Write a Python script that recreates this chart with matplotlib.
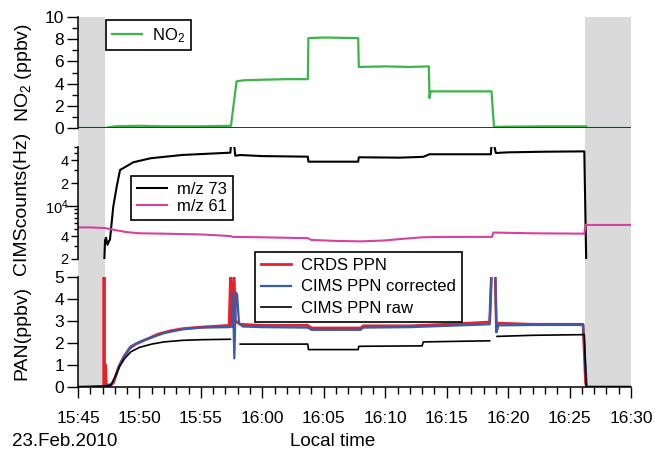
import numpy as np
import pandas as pd
import matplotlib
matplotlib.use("Agg")
import matplotlib.pyplot as plt
import matplotlib.dates as mdates

plt.rcParams['font.family'] = ['Liberation Sans', 'DejaVu Sans']
plt.rcParams['mathtext.default'] = 'regular'

# ---- data (time in minutes after 15:00, 23 Feb 2010) ----
shade_start = [45.0, 86.25]
shade_end = [47.2, 90.0]

no2_t = [45.0, 47.2, 48.0, 50.0, 52.0, 55.0, 57.45, 57.9, 58.5, 60.0, 62.0, 63.7,
         63.75, 65.0, 67.8, 67.85, 70.0, 72.0, 73.55, 73.6, 73.7, 75.0, 78.65,
         78.85, 80.0, 83.0, 86.35, 86.45, 90.0]
no2_v = [0.0, 0.0, 0.15, 0.2, 0.15, 0.15, 0.2, 4.2, 4.3, 4.35, 4.4, 4.4,
         8.1, 8.15, 8.1, 5.5, 5.55, 5.5, 5.55, 2.7, 3.3, 3.3, 3.3,
         0.1, 0.12, 0.15, 0.15, 0.0, 0.0]

mz73_t = [47.14, 47.2, 47.28, 47.4, 47.55, 47.6, 47.87, 48.15, 48.42, 49.5, 50.9,
          53.5, 57.4, 57.45, 57.5, 57.7, 57.8, 58.2, 60.0, 63.7, 63.75, 67.8,
          67.85, 71.2, 73.1, 73.6, 78.6, 78.65, 78.7, 78.85, 79.0, 80.0, 83.0,
          86.2, 86.35]
mz73_v = [1.9e3, 3.5e3, 3.8e3, 3.06e3, 3.5e3, 3.56e3, 9.8e3, 1.8e4, 2.98e4, 3.77e4, 4.26e4,
          4.71e4, 5.05e4, 6.5e4, np.nan, 6.5e4, 4.6e4, 4.7e4, 4.55e4, 4.47e4, 3.84e4, 3.84e4,
          4.39e4, 4.34e4, 4.45e4, 4.81e4, 4.81e4, 6.5e4, np.nan, 6.5e4, 5.0e4, 5.1e4, 5.2e4,
          5.25e4, 2.05e3]

mz61_t = [45.0, 46.0, 47.2, 48.0, 49.0, 50.0, 52.0, 55.0, 57.4, 57.6, 60.0, 63.7,
          64.0, 66.0, 68.0, 70.0, 71.2, 73.0, 75.0, 78.7, 78.8, 82.0, 86.2, 86.3, 90.0]
mz61_v = [5.2e3, 5.2e3, 5.1e3, 4.8e3, 4.5e3, 4.35e3, 4.3e3, 4.2e3, 4.0e3, 3.9e3, 3.85e3, 3.75e3,
          3.55e3, 3.45e3, 3.4e3, 3.5e3, 3.65e3, 3.85e3, 3.9e3, 3.9e3, 4.45e3, 4.35e3, 4.3e3,
          5.6e3, 5.6e3]

crds_t = [45.0, 47.1, 47.12, 47.14, 47.25, 47.3, 47.6, 47.9, 48.3, 48.7, 49.2,
          49.7, 50.5, 51.5, 52.5, 53.5, 55.0, 57.3, 57.42, 57.5, 57.7, 57.8, 58.2,
          60.0, 63.7, 64.0, 68.0, 68.2, 72.0, 75.0, 78.5, 78.65, 78.95, 79.05, 79.2,
          82.0, 86.1, 86.3, 86.4, 90.0]
crds_v = [0.0, 0.0, 5.2, 0.05, 1.0, 0.05, 0.05, 0.2, 0.9, 1.35, 1.75,
          1.95, 2.15, 2.4, 2.55, 2.65, 2.72, 2.8, 5.2, 2.8, 5.2, 3.0, 2.85,
          2.8, 2.8, 2.68, 2.68, 2.78, 2.78, 2.85, 2.95, 5.2, 5.2, 2.5, 2.9,
          2.85, 2.85, 0.2, 0.0, 0.0]

corr_t = [45.0, 47.2, 47.3, 47.7, 48.0, 48.4, 48.8, 49.3, 50.0, 51.0, 52.0, 53.5,
          55.0, 57.3, 57.55, 57.6, 57.72, 57.85, 57.95, 58.1, 58.4, 60.0, 63.7, 64.0,
          68.0, 68.2, 72.0, 75.0, 78.5, 78.65, 78.95, 79.05, 79.2, 82.0, 86.1, 86.4, 90.0]
corr_v = [0.0, 0.0, 0.1, 0.12, 0.4, 1.0, 1.45, 1.85, 2.05, 2.25, 2.45, 2.62,
          2.7, 2.72, 2.75, 4.3, 1.3, 4.3, 4.2, 2.9, 2.75, 2.72, 2.7, 2.6,
          2.6, 2.7, 2.72, 2.78, 2.85, 5.2, 5.2, 2.5, 2.8, 2.82, 2.82, 0.0, 0.0]

raw_t = [45.0, 47.3, 47.7, 48.0, 48.4, 48.8, 49.3, 50.0, 51.0, 52.0, 53.5, 55.0,
         57.4, 57.45, 58.2, 63.7, 63.75, 67.8, 67.85, 73.0, 73.1, 78.5, 78.6,
         79.1, 82.0, 86.2, 86.35, 90.0]
raw_v = [0.0, 0.05, 0.1, 0.45, 0.95, 1.3, 1.6, 1.8, 1.95, 2.05, 2.12, 2.15,
         2.17, np.nan, 1.95, 1.95, 1.7, 1.7, 1.85, 1.87, 2.05, 2.1, np.nan,
         2.3, 2.35, 2.38, 0.0, 0.0]

mid_ticks = [2e3, 4e3, 1e4, 2e4, 4e4]
mid_ticklabels = ['2', '4', '$10^4$', '2', '4']

day = pd.Timestamp("2010-02-23 15:00")


def tt(m):
    return day + pd.to_timedelta(np.asarray(m, dtype=float), unit="min")


fig = plt.figure(figsize=(6.55, 4.53), dpi=100)
L, W = 78 / 655, 553 / 655
ax_bg = fig.add_axes([L, 0.1457, W, 0.8168])
ax1 = fig.add_axes([L, 0.71744, W, 0.24503], facecolor='none', sharex=ax_bg)
ax2 = fig.add_axes([L, 0.42826, W, 0.24724], facecolor='none', sharex=ax_bg)
ax3 = fig.add_axes([L, 0.14570, W, 0.24283], facecolor='none', sharex=ax_bg)

for a, b in zip(shade_start, shade_end):
    ax_bg.axvspan(tt(a), tt(b), color='#dadada', lw=0)
ax_bg.set_ylim(0, 1)
ax_bg.axis('off')

# ---- top: NO2
ax1.axhline(0, color='#333333', lw=1.4, zorder=3)
ax1.plot(tt(no2_t), no2_v, color='#3cb54a', lw=1.6, label='NO$_2$')
ax1.set_ylim(0, 10)
ax1.set_yticks([0, 2, 4, 6, 8, 10])
ax1.set_yticks([1, 3, 5, 7, 9], minor=True)

# ---- middle: CIMS counts
ax2.plot(tt(mz73_t), mz73_v, color='black', lw=1.5, label='m/z 73')
ax2.plot(tt(mz61_t), mz61_v, color='#d6409f', lw=1.5, label='m/z 61')
ax2.set_yscale('log')
ax2.set_ylim(1.99e3, 6e4)
ax2.set_yticks(mid_ticks, mid_ticklabels)
ax2.set_yticks([3e3, 5e3, 6e3, 7e3, 8e3, 9e3, 3e4, 5e4, 6e4], minor=True)
ax2.set_yticklabels([], minor=True)

# ---- bottom: PAN
ax3.plot(tt(crds_t), crds_v, color='#e8202a', lw=2.0, label='CRDS PPN')
ax3.plot(tt(corr_t), corr_v, color='#3a5ba9', lw=1.6, label='CIMS PPN corrected')
ax3.plot(tt(raw_t), raw_v, color='black', lw=1.2, label='CIMS PPN raw')
ax3.set_ylim(0, 5)
ax3.set_yticks([0, 1, 2, 3, 4, 5])

ax3.set_xlim(tt(45), tt(90))
ax3.xaxis.set_major_locator(mdates.MinuteLocator(byminute=range(0, 60, 5)))
ax3.xaxis.set_minor_locator(mdates.MinuteLocator())
ax3.xaxis.set_major_formatter(mdates.DateFormatter('%H:%M'))

for ax in (ax1, ax2, ax3):
    for s in ('top', 'right', 'bottom'):
        ax.spines[s].set_visible(False)
    ax.spines['left'].set_linewidth(1.1)
    ax.tick_params(axis='y', which='major', direction='out', length=8, width=1.0,
                   labelsize=12.5, pad=2)
    ax.tick_params(axis='y', which='minor', direction='out', length=4.5, width=1.0)
ax3.spines['bottom'].set_visible(True)
ax3.spines['bottom'].set_linewidth(1.1)
for ax in (ax1, ax2):
    ax.tick_params(axis='x', which='both', bottom=False, labelbottom=False)
ax2.tick_params(axis='y', which='major', length=5, labelsize=10.5)
ax2.tick_params(axis='y', which='minor', length=3)
ax2.yaxis.get_major_ticks()[2].tick1line.set_markersize(9)
ax3.tick_params(axis='x', which='major', direction='out', length=8, width=1.0,
                labelsize=12.5, pad=9)
ax3.tick_params(axis='x', which='minor', direction='out', length=5, width=1.0)

# ---- labels
fig.text(23 / 655, 1 - 72 / 453, 'NO$_2$ (ppbv)', rotation=90, ha='center', va='center', fontsize=14)
fig.text(22 / 655, 1 - 203 / 453, 'CIMScounts(Hz)', rotation=90, ha='center', va='center', fontsize=14)
fig.text(22 / 655, 1 - 333 / 453, 'PAN(ppbv)', rotation=90, ha='center', va='center', fontsize=14)
fig.text(333 / 655, 1 - 441 / 453, 'Local time', ha='center', va='center', fontsize=13.5)
fig.text(12 / 655, 1 - 442 / 453, '23.Feb.2010', ha='left', va='center', fontsize=13.5)

leg_kw = dict(fontsize=12, frameon=True, fancybox=False, framealpha=1, edgecolor='black',
              loc='upper left', borderaxespad=0, borderpad=0.35, handlelength=1.8,
              handletextpad=0.6)
for ax, anchor, spacing in ((ax1, (106 / 655, 1 - 20 / 453), 0.15),
                            (ax2, (131 / 655, 1 - 176 / 453), 0.15),
                            (ax3, (255 / 655, 1 - 252 / 453), 0.4)):
    leg = ax.legend(bbox_to_anchor=anchor, bbox_transform=fig.transFigure,
                    labelspacing=spacing, **leg_kw)
    leg.get_frame().set_linewidth(1.2)

fig.savefig('out.png', dpi=100)
